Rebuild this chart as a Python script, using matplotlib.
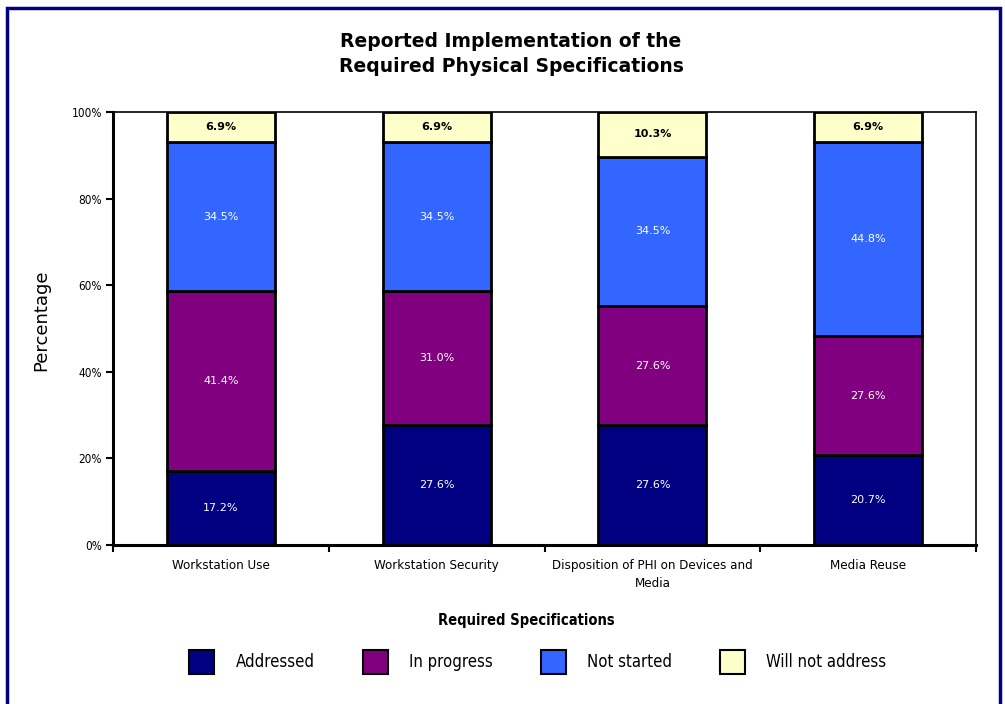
import matplotlib
matplotlib.use("Agg")
import matplotlib.pyplot as plt
from matplotlib.patches import Rectangle, Patch
import numpy as np

categories = ["Workstation Use", "Workstation Security",
              "Disposition of PHI on Devices and\nMedia", "Media Reuse"]
series_names = ["Addressed", "In progress", "Not started", "Will not address"]
addressed = [17.2, 27.6, 27.6, 20.7]
in_progress = [41.4, 31.0, 27.6, 27.6]
not_started = [34.5, 34.5, 34.5, 44.8]
will_not = [6.9, 6.9, 10.3, 6.9]
yticks = [0, 20, 40, 60, 80, 100]

colors = ["#000080", "#800080", "#3366FF", "#FFFFCC"]
text_colors = ["white", "white", "white", "black"]

# condensed face for the axis and legend text
narrow = dict(family="DejaVu Sans", stretch="condensed")

fig = plt.figure(figsize=(10.05, 7.04), dpi=100)
ax = fig.add_axes([113 / 1005, 1 - 545 / 704, 863 / 1005, 433 / 704])

# navy frame round the whole chart
fig.patches.append(Rectangle((7 / 1005, -0.01), 993 / 1005, 1 - 8 / 704 + 0.01,
                             transform=fig.transFigure, fill=False,
                             edgecolor="#000080", linewidth=2.5))

x = np.arange(len(categories))
bottom = np.zeros(len(categories))
for vals, name, col, tcol in zip([addressed, in_progress, not_started, will_not],
                                 series_names, colors, text_colors):
    vals = np.array(vals)
    ax.bar(x, vals, bottom=bottom, width=0.5, color=col, edgecolor="black",
           linewidth=2, label=name, zorder=3)
    for xi, b, v in zip(x, bottom, vals):
        ax.text(xi, b + v / 2, f"{v:.1f}%", ha="center", va="center",
                color=tcol, fontsize=8, fontweight="bold" if tcol == "black" else "normal",
                zorder=4)
    bottom += vals

ax.set_xlim(-0.5, len(categories) - 0.5)
ax.set_ylim(0, 100)
ax.set_yticks(yticks)
ax.set_yticklabels([f"{t}%" for t in yticks], fontsize=8.5, **narrow)
ax.set_xticks(np.arange(-0.5, len(categories)), minor=False)
ax.set_xticklabels([])
ax.set_xticks(x, minor=True)
ax.set_xticklabels(categories, minor=True, fontsize=9.5, linespacing=1.5, **narrow)
ax.tick_params(axis="x", which="minor", length=0, pad=10)
ax.tick_params(axis="x", which="major", direction="out", length=5, width=1.5)
ax.tick_params(axis="y", direction="out", length=5, width=1.5, pad=3)
for side in ["left", "bottom"]:
    ax.spines[side].set_linewidth(2.2)
for side in ["top", "right"]:
    ax.spines[side].set_linewidth(1.2)

fig.text(511 / 1005, 1 - 54 / 704, "Reported Implementation of the\nRequired Physical Specifications",
         ha="center", va="center", fontsize=13.5, fontweight="bold", linespacing=1.35)
fig.text(41 / 1005, 1 - 320 / 704, "Percentage", rotation=90, ha="center", va="center",
         fontsize=13)
fig.text(526 / 1005, 1 - 620 / 704, "Required Specifications", ha="center", va="center",
         fontsize=10.5, fontweight="bold", **narrow)

handles = [Patch(facecolor=c, edgecolor="black", linewidth=1.5) for c in colors]
fig.legend(handles, series_names, loc="center", bbox_to_anchor=(538 / 1005, 1 - 662 / 704),
           ncol=4, frameon=False, prop=dict(size=12, **narrow),
           handlelength=1.5, handleheight=1.9, columnspacing=2.85, handletextpad=1.3)

fig.savefig("out.png", dpi=100)
